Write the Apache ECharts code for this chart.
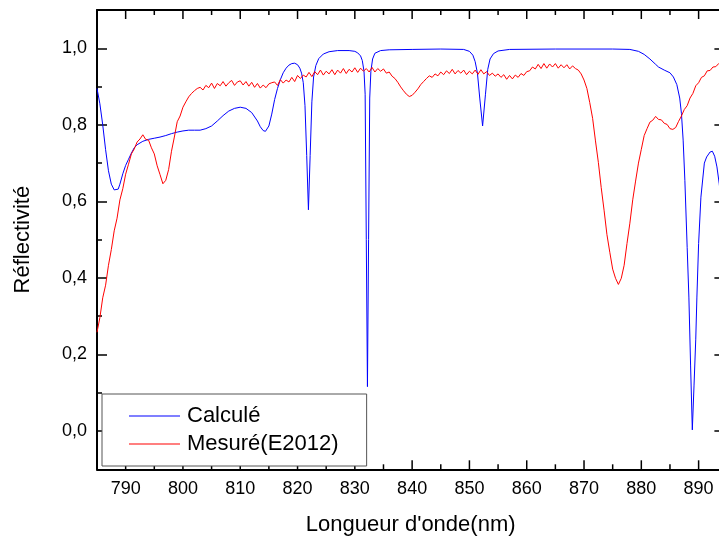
<!DOCTYPE html>
<html>
<head>
<meta charset="utf-8">
<script src="https://cdn.jsdelivr.net/npm/echarts@6.0.0/dist/echarts.min.js"></script>
<style>
  html, body { margin: 0; padding: 0; background: #fff; }
  #chart { width: 719px; height: 538px; }
</style>
</head>
<body>
<div id="chart"></div>
<script>
// courbe calculée (nm / réflectivité)
var calcX = [785.0, 785.5, 786.0, 786.5, 787.0, 787.5, 788.0, 788.3, 788.7, 789.0, 789.5, 790.0, 790.5, 791.0, 791.5, 792.0,
  793.0, 794.0, 795.0, 796.0, 797.0, 798.0, 799.0, 800.0, 801.0, 802.0, 803.0, 804.0, 805.0, 806.0, 807.0, 808.0, 809.0,
  810.0, 811.0, 812.0, 813.0, 813.5, 814.0, 814.4, 815.0, 815.5, 816.0, 816.5, 817.0, 817.5, 818.0, 818.5, 819.0, 819.5,
  820.0, 820.4, 820.7, 821.0, 821.3, 821.6, 821.9, 822.2, 822.5, 822.8, 823.2, 823.7, 824.5, 825.5, 827.0, 829.0,
  830.0, 830.5, 831.0, 831.3, 831.6, 831.8, 832.0, 832.2, 832.4, 832.6, 832.8, 833.1, 833.5, 834.5, 836.0, 840.0,
  845.0, 849.0, 850.0, 850.6, 851.0, 851.4, 851.8, 852.3, 852.8, 853.2, 853.6, 854.2, 855.0, 857.0, 865.0, 875.0,
  878.0, 879.5, 880.5, 881.5, 882.5, 883.0, 884.0, 885.0, 885.6, 886.2, 886.7, 887.0, 887.3, 887.6, 888.0, 888.3,
  888.6, 888.9, 889.2, 889.5, 889.7, 890.0, 890.4, 891.0, 891.4, 892.0, 892.4, 892.8, 893.2, 893.6, 894.0, 894.5];
var calcY = [0.895, 0.855, 0.800, 0.735, 0.680, 0.645, 0.630, 0.627, 0.632, 0.645, 0.672, 0.694, 0.710, 0.726, 0.740, 0.748,
  0.757, 0.762, 0.765, 0.768, 0.772, 0.777, 0.781, 0.784, 0.786, 0.786, 0.786, 0.790, 0.797, 0.810, 0.824, 0.836, 0.843,
  0.846, 0.843, 0.832, 0.810, 0.795, 0.785, 0.783, 0.797, 0.828, 0.866, 0.895, 0.918, 0.936, 0.948, 0.956, 0.960, 0.961,
  0.957, 0.948, 0.935, 0.910, 0.850, 0.720, 0.578, 0.720, 0.860, 0.925, 0.955, 0.973, 0.985, 0.991, 0.994, 0.994,
  0.992, 0.988, 0.980, 0.968, 0.940, 0.880, 0.500, 0.116, 0.500, 0.870, 0.940, 0.972, 0.987, 0.994, 0.996, 0.997,
  0.998, 0.997, 0.992, 0.982, 0.965, 0.935, 0.870, 0.797, 0.880, 0.945, 0.972, 0.986, 0.993, 0.997, 0.998, 0.998,
  0.997, 0.992, 0.984, 0.972, 0.958, 0.951, 0.943, 0.936, 0.925, 0.905, 0.870, 0.830, 0.760, 0.655, 0.480, 0.350,
  0.170, 0.003, 0.120, 0.240, 0.350, 0.490, 0.611, 0.700, 0.716, 0.729, 0.731, 0.718, 0.690, 0.646, 0.590, 0.500];

// courbe mesurée (E2012)
var mesX = [785.0, 785.5, 786.0, 786.5, 787.0, 787.5, 788.0, 788.5, 789.0, 789.5, 790.0, 790.5, 791.0, 791.5, 792.0, 792.5,
  793.0, 793.5, 794.0, 794.5, 795.0, 795.5, 796.0, 796.5, 797.0, 797.5, 798.0, 798.5, 799.0, 799.5, 800.0, 800.5,
  801.0, 801.5, 802.0, 802.5, 803.0, 803.5, 804.0, 804.5, 805.0, 805.5, 806.0, 806.5, 807.0, 807.5, 808.0, 808.5,
  809.0, 809.5, 810.0, 810.5, 811.0, 811.5, 812.0, 812.5, 813.0, 813.5, 814.0, 814.5, 815.0, 815.5, 816.0, 816.5,
  817.0, 817.5, 818.0, 818.5, 819.0, 819.5, 820.0, 820.5, 821.0, 821.5, 822.0, 822.5, 823.0, 823.5, 824.0, 824.5,
  825.0, 825.5, 826.0, 826.5, 827.0, 827.5, 828.0, 828.5, 829.0, 829.5, 830.0, 830.5, 831.0, 831.5, 832.0, 832.5,
  833.0, 833.5, 834.0, 834.5, 835.0, 835.5, 836.0, 836.5, 837.0, 837.5, 838.0, 838.5, 839.0, 839.5, 840.0, 840.5,
  841.0, 841.5, 842.0, 842.5, 843.0, 843.5, 844.0, 844.5, 845.0, 845.5, 846.0, 846.5, 847.0, 847.5, 848.0, 848.5,
  849.0, 849.5, 850.0, 850.5, 851.0, 851.5, 852.0, 852.5, 853.0, 853.5, 854.0, 854.5, 855.0, 855.5, 856.0, 856.5,
  857.0, 857.5, 858.0, 858.5, 859.0, 859.5, 860.0, 860.5, 861.0, 861.5, 862.0, 862.5, 863.0, 863.5, 864.0, 864.5,
  865.0, 865.5, 866.0, 866.5, 867.0, 867.5, 868.0, 868.5, 869.0, 869.5, 870.0, 870.5, 871.0, 871.5, 872.0, 872.5,
  873.0, 873.5, 874.0, 874.5, 875.0, 875.5, 876.0, 876.5, 877.0, 877.5, 878.0, 878.5, 879.0, 879.5, 880.0, 880.5,
  881.0, 881.5, 882.0, 882.5, 883.0, 883.5, 884.0, 884.5, 885.0, 885.5, 886.0, 886.5, 887.0, 887.5, 888.0, 888.5,
  889.0, 889.5, 890.0, 890.5, 891.0, 891.5, 892.0, 892.5, 893.0, 893.5, 894.0, 894.5];
var mesY = [0.258, 0.296, 0.348, 0.381, 0.433, 0.474, 0.523, 0.556, 0.604, 0.633, 0.671, 0.697, 0.724, 0.737, 0.755, 0.763,
  0.774, 0.762, 0.760, 0.740, 0.724, 0.693, 0.670, 0.646, 0.655, 0.683, 0.731, 0.768, 0.808, 0.823, 0.846, 0.860,
  0.873, 0.882, 0.889, 0.895, 0.898, 0.891, 0.903, 0.897, 0.909, 0.895, 0.908, 0.902, 0.913, 0.901, 0.910, 0.916,
  0.903, 0.912, 0.915, 0.904, 0.913, 0.901, 0.911, 0.898, 0.908, 0.896, 0.904, 0.897, 0.907, 0.910, 0.912, 0.903,
  0.918, 0.909, 0.917, 0.912, 0.924, 0.913, 0.929, 0.921, 0.930, 0.925, 0.937, 0.926, 0.939, 0.931, 0.943, 0.930,
  0.940, 0.933, 0.944, 0.931, 0.943, 0.935, 0.947, 0.934, 0.945, 0.938, 0.949, 0.937, 0.948, 0.940, 0.947, 0.938,
  0.950, 0.938, 0.947, 0.940, 0.946, 0.935, 0.938, 0.927, 0.921, 0.911, 0.899, 0.889, 0.880, 0.874, 0.877, 0.885,
  0.894, 0.905, 0.913, 0.921, 0.928, 0.924, 0.933, 0.928, 0.938, 0.931, 0.941, 0.934, 0.945, 0.933, 0.942, 0.935,
  0.943, 0.931, 0.940, 0.933, 0.943, 0.932, 0.944, 0.933, 0.939, 0.929, 0.935, 0.927, 0.933, 0.924, 0.931, 0.919,
  0.929, 0.920, 0.930, 0.924, 0.934, 0.929, 0.939, 0.941, 0.951, 0.946, 0.958, 0.947, 0.960, 0.948, 0.959, 0.951,
  0.960, 0.948, 0.957, 0.949, 0.957, 0.946, 0.954, 0.947, 0.943, 0.933, 0.917, 0.895, 0.858, 0.817, 0.758, 0.702,
  0.636, 0.577, 0.513, 0.467, 0.423, 0.399, 0.383, 0.399, 0.433, 0.490, 0.543, 0.604, 0.653, 0.700, 0.736, 0.772,
  0.790, 0.807, 0.812, 0.822, 0.814, 0.813, 0.804, 0.801, 0.790, 0.788, 0.793, 0.809, 0.823, 0.840, 0.850, 0.870,
  0.882, 0.902, 0.910, 0.924, 0.928, 0.941, 0.942, 0.951, 0.952, 0.960, 0.961, 0.964];

var xMajor = [790, 800, 810, 820, 830, 840, 850, 860, 870, 880, 890];
var xMinor = [795, 805, 815, 825, 835, 845, 855, 865, 875, 885];
var yMajor = [0, 0.2, 0.4, 0.6, 0.8, 1.0];
var yMinor = [0.1, 0.3, 0.5, 0.7, 0.9];

function zip(xs, ys) {
  return xs.map(function (x, i) { return [x, ys[i]]; });
}

var font = 'Liberation Sans, Arial, sans-serif';
var X_MIN = 785, X_MAX = 894.5, Y_MIN = -0.1, Y_MAX = 1.1;
function gridBox() {
  return { left: 97, top: 10, right: -5.4, bottom: 68.7, containLabel: false, outerBoundsMode: 'none' };
}

// graduations x (haut et bas) dessinées par une série custom, placées par l'échelle de l'axe
var xTickData = xMajor.map(function (v) { return [v, Y_MIN, 9]; })
  .concat(xMinor.map(function (v) { return [v, Y_MIN, 5]; }));

function renderXTick(params, api) {
  var len = api.value(2);
  var b = api.coord([api.value(0), Y_MIN]);
  var t = api.coord([api.value(0), Y_MAX]);
  var st = { stroke: '#000', lineWidth: 1.5 };
  return {
    type: 'group',
    children: [
      { type: 'line', shape: { x1: b[0], y1: b[1], x2: b[0], y2: b[1] - len }, style: st },
      { type: 'line', shape: { x1: t[0], y1: t[1], x2: t[0], y2: t[1] + len }, style: st }
    ]
  };
}

function yAx(grid, pos, ticks, len, main) {
  return {
    type: 'value', gridIndex: grid, position: pos, min: Y_MIN, max: Y_MAX,
    axisLine: { show: main, onZero: false, lineStyle: { color: '#000', width: 2 } },
    axisTick: { show: true, inside: true, length: len, customValues: ticks, lineStyle: { color: '#000', width: 1.5 } },
    axisLabel: { show: false },
    splitLine: { show: false }
  };
}

var xBottom = {
  type: 'value', gridIndex: 0, position: 'bottom', min: X_MIN, max: X_MAX,
  axisLine: { show: true, onZero: false, lineStyle: { color: '#000', width: 2 } },
  axisTick: { show: false },
  axisLabel: { show: true, customValues: xMajor, fontSize: 18, fontFamily: font, color: '#000', margin: 11 },
  splitLine: { show: false },
  name: "Longueur d'onde(nm)", nameLocation: 'middle', nameGap: 45,
  nameTextStyle: { fontSize: 22, fontFamily: font, color: '#000' }
};
var xTop = {
  type: 'value', gridIndex: 1, position: 'top', min: X_MIN, max: X_MAX,
  axisLine: { show: true, onZero: false, lineStyle: { color: '#000', width: 2 } },
  axisTick: { show: false }, axisLabel: { show: false }, splitLine: { show: false }
};
function hiddenX(grid) {
  return { type: 'value', gridIndex: grid, min: X_MIN, max: X_MAX, show: false, splitLine: { show: false } };
}

var yLeft = yAx(0, 'left', yMajor, 10, true);
yLeft.axisLabel = {
  show: true, customValues: yMajor, fontSize: 18, fontFamily: font, color: '#000', margin: 10,
  formatter: function (v) { return v.toFixed(1).replace('.', ','); }
};
yLeft.name = 'Réflectivité';
yLeft.nameLocation = 'middle';
yLeft.nameRotate = 90;
yLeft.nameGap = 63;
yLeft.nameTextStyle = { fontSize: 22, fontFamily: font, color: '#000' };

var chart = echarts.init(document.getElementById('chart'), null, { renderer: 'canvas' });
var option = {
  backgroundColor: '#fff',
  animation: false,
  grid: [gridBox(), gridBox(), gridBox(), gridBox()],
  xAxis: [xBottom, xTop, hiddenX(2), hiddenX(3)],
  yAxis: [
    yLeft,
    yAx(1, 'right', yMajor, 10, true),
    yAx(2, 'left', yMinor, 5, false),
    yAx(3, 'right', yMinor, 5, false)
  ],
  legend: {
    data: ['Calculé', 'Mesuré(E2012)'],
    orient: 'vertical',
    left: 102, top: 394,
    padding: [11, 28, 11, 27],
    icon: 'rect',
    itemWidth: 51, itemHeight: 1.2, itemGap: 6,
    borderColor: '#555', borderWidth: 1, borderRadius: 0,
    backgroundColor: '#fff',
    textStyle: { fontSize: 22, fontFamily: font, color: '#000', padding: [0, 0, 0, 2], lineHeight: 22 }
  },
  series: [
    {
      name: 'Calculé', type: 'line', symbol: 'none',
      xAxisIndex: 0, yAxisIndex: 0,
      lineStyle: { color: '#0000ff', width: 1 },
      itemStyle: { color: '#0000ff' },
      data: zip(calcX, calcY)
    },
    {
      name: 'Mesuré(E2012)', type: 'line', symbol: 'none',
      xAxisIndex: 0, yAxisIndex: 0,
      lineStyle: { color: '#ff0000', width: 1 },
      itemStyle: { color: '#ff0000' },
      data: zip(mesX, mesY)
    },
    {
      name: 'ticks', type: 'custom',
      xAxisIndex: 0, yAxisIndex: 0,
      silent: true, z: 1,
      encode: { x: 0, y: 1 },
      renderItem: renderXTick,
      data: xTickData
    }
  ]
};
chart.setOption(option);
</script>
</body>
</html>
